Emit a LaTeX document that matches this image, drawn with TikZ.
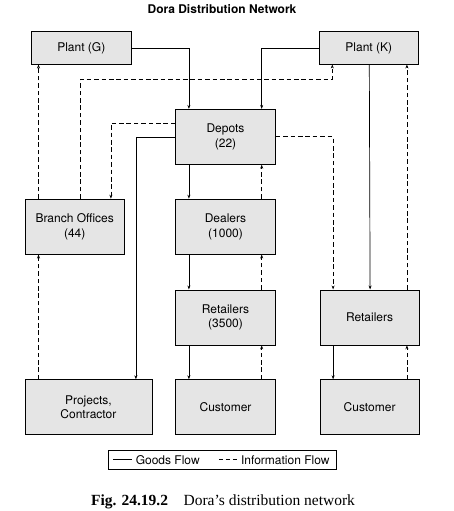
\documentclass[tikz,border=0pt]{standalone}
\usepackage{fontspec}
\setmainfont{Liberation Serif}
\setsansfont{TeX Gyre Heros}
\usetikzlibrary{arrows.meta, positioning}

\begin{document}
\begin{tikzpicture}[x=1pt,y=1pt,>={Stealth[length=4pt,width=3pt]},
 every node/.style={font=\sffamily\fontsize{12}{14.6}\selectfont},
 unit/.style={draw,line width=.8pt,fill=black!10,minimum width=99.6pt,
   minimum height=55pt,inner sep=0pt,align=center},
 plant/.style={unit,minimum height=32.3pt},
 goods/.style={line width=.7pt},
 info/.style={line width=.7pt,dash pattern=on 4.6pt off 2.8pt}]
 \useasboundingbox (0,0) rectangle (453,-511);
 \node[font=\sffamily\bfseries\fontsize{12}{14}\selectfont] (title) at (222,-9.5)
   {Dora Distribution Network};
 \node[plant,minimum width=100pt] (plantg) at (81.3,-47.9) {Plant (G)};
 \node[plant,minimum width=99pt] (plantk) at (368.8,-47.9) {Plant (K)};
 \node[unit] (depots) at (225.5,-136.8) {Depots\\(22)};
 \node[unit,below=34pt of depots] (dealers) {Dealers\\(1000)};
 \node[unit,below=35pt of dealers] (ret1) {Retailers\\(3500)};
 \node[unit,below=34pt of ret1] (cust1) {Customer};
 \node[unit,left=50.4pt of dealers] (branch) {Branch Offices\\(44)};
 \node[unit,minimum width=127pt,left=23pt of cust1] (proj) {Projects,\\Contractor};
 \node[unit,minimum width=99pt,right=44pt of cust1] (cust2) {Customer};
 \node[unit,minimum width=99pt,above=34pt of cust2] (ret2) {Retailers};
 % goods flow
 \draw[goods,->] (plantg.east) -| ([xshift=13.6pt]depots.north west);
 \draw[goods,->] (plantk.west) -| ([xshift=-14pt]depots.north east);
 \draw[goods,->] ([xshift=.5pt]plantk.south) -- ([xshift=.5pt]ret2.north);
 \draw[goods,->] ([yshift=-1pt]depots.west) -| ([xshift=-16.4pt]proj.north east);
 \foreach \a/\b in {depots/dealers,dealers/ret1,ret1/cust1}{
  \draw[goods,->] ([xshift=13.6pt]\a.south west) -- ([xshift=13.6pt]\b.north west);
  \draw[info,->] ([xshift=-14pt]\b.north east) -- ([xshift=-14pt]\a.south east);
 }
 \draw[goods,->] ([xshift=13.4pt]ret2.south west) -- ([xshift=13.4pt]cust2.north west);
 % information flow
 \draw[info,->] ([xshift=-12.6pt]cust2.north east) -- ([xshift=-12.6pt]ret2.south east);
 \draw[info,->] ([xshift=-12.6pt]ret2.north east) -- ([xshift=-12.6pt]ret2.north east |- plantk.south);
 \draw[info,->] (depots.east) -| ([xshift=13.4pt]ret2.north west);
 \draw[info,->] ([yshift=-14pt]depots.north west) -| ([xshift=-14pt]branch.north east);
 \draw[info,->] ([xshift=14pt]branch.north west) -- ([xshift=14pt]branch.north west |- plantg.south);
 \draw[info,->] ([xshift=56pt]branch.north west) -- ++(0,119.6)
   -| ([xshift=13.4pt]plantk.south west);
 \draw[info,->] ([xshift=14pt]proj.north west) -- ([xshift=14pt]branch.south west);
 % legend
 \node[draw,line width=.8pt,minimum width=228pt,minimum height=18.7pt,inner sep=0pt]
   (legend) at (222.3,-459.7) {};
 \node[anchor=west,inner sep=0pt] (goodslbl) at ([xshift=27.7pt]legend.west) {Goods Flow};
 \node[anchor=west,inner sep=0pt] (infolbl) at ([xshift=133pt]legend.west) {Information Flow};
 \coordinate (g1) at ([xshift=5pt]legend.west);
 \coordinate (g2) at ([xshift=-4pt]goodslbl.west);
 \coordinate (i1) at ([xshift=111pt]legend.west);
 \coordinate (i2) at ([xshift=-4pt]infolbl.west);
 \draw[goods] (g1) -- (g2);
 \draw[line width=.7pt,dash pattern=on 4pt off 3pt] (i1) -- (i2);
 \node[font=\rmfamily\fontsize{15.5}{17}\selectfont] (caption) at (223,-502)
   {\textbf{Fig. 24.19.2}\quad Dora's distribution network};
\end{tikzpicture}
\end{document}
